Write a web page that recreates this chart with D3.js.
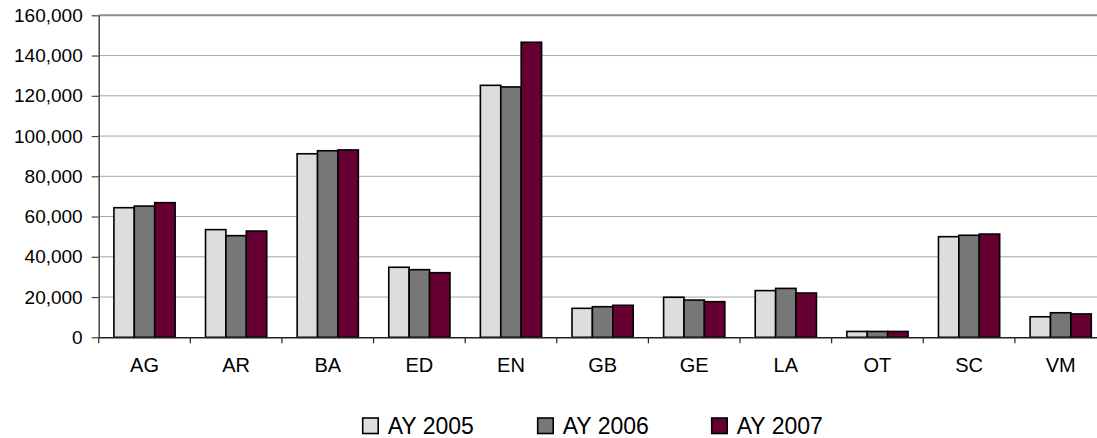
<!DOCTYPE html>
<html><head><meta charset="utf-8">
<script src="https://cdn.jsdelivr.net/npm/d3@7"></script>
<style>
html,body{margin:0;padding:0;background:#fff;overflow:hidden;}
svg{display:block;font-family:"Liberation Sans",Arial,sans-serif;}
</style></head>
<body>
<svg id="chart" width="1097" height="438"></svg>
<script>
const categories = ["AG","AR","BA","ED","EN","GB","GE","LA","OT","SC","VM"];
const seriesNames = ["AY 2005","AY 2006","AY 2007"];
const ay2005 = [64400,53500,91200,34800,125200,14400,19900,23200,2900,50000,10200];
const ay2006 = [65200,50500,92700,33600,124400,15200,18500,24300,2900,50700,12200];
const ay2007 = [66900,52800,93100,32100,146600,15900,17700,22000,2900,51300,11600];
const yTicks = [0,20000,40000,60000,80000,100000,120000,140000,160000];
const colors = ["#dddddd","#777777","#660033"];

(function(){
const seriesValues = [ay2005, ay2006, ay2007];
const svg = d3.select("#chart");
const pLeft = 98.7, pRight = 1106.5, pTop = 15.3, pBottom = 337.3;

const x = d3.scaleBand().domain(categories).range([pLeft, pRight]).paddingInner(0).paddingOuter(0);
const bw = x.bandwidth();
const xs = d3.scaleBand().domain(seriesNames).range([bw*0.166, bw*0.834]).padding(0);
const y = d3.scaleLinear().domain([0,160000]).range([pBottom, pTop]);

// gridlines
svg.append("g").selectAll("line").data(yTicks.filter(d => d > 0 && d < 160000)).join("line")
  .attr("x1", pLeft).attr("x2", pRight)
  .attr("y1", d => y(d)).attr("y2", d => y(d))
  .attr("stroke", "#a6a6a6").attr("stroke-width", 1);
// top border
svg.append("line").attr("x1", pLeft).attr("x2", pRight).attr("y1", y(160000)).attr("y2", y(160000))
  .attr("stroke", "#8c8c8c").attr("stroke-width", 2);

// bars
const rows = [];
categories.forEach((c, i) => seriesNames.forEach((s, j) => rows.push({c, s, j, v: seriesValues[j][i]})));
svg.append("g").selectAll("rect").data(rows).join("rect")
  .attr("x", d => x(d.c) + xs(d.s))
  .attr("y", d => y(d.v))
  .attr("width", xs.bandwidth())
  .attr("height", d => y(0) - y(d.v))
  .attr("fill", d => colors[d.j])
  .attr("stroke", "#000").attr("stroke-width", 1.6);

// y axis
const yAxis = d3.axisLeft(y).tickValues(yTicks).tickSize(7).tickSizeOuter(0)
  .tickFormat(d3.format(","));
const gy = svg.append("g").attr("transform", `translate(${pLeft},0)`).call(yAxis);
gy.select(".domain").attr("stroke", "#444").attr("stroke-width", 1.5);
gy.selectAll(".tick line").attr("stroke", "#444").attr("stroke-width", 1.2);
gy.selectAll(".tick text").attr("font-size", 19).attr("fill", "#000")
  .attr("font-family", "Liberation Sans, Arial, sans-serif").attr("x", -16);

// x axis
const xAxis = d3.axisBottom(x).tickSize(0).tickSizeOuter(0);
const gx = svg.append("g").attr("transform", `translate(0,${pBottom})`).call(xAxis);
gx.select(".domain").attr("stroke", "#222").attr("stroke-width", 1.5);
gx.selectAll(".tick text").attr("font-size", 20).attr("fill", "#000")
  .attr("font-family", "Liberation Sans, Arial, sans-serif").attr("y", 21);
// category separator ticks
svg.append("g").selectAll("line").data(categories).join("line")
  .attr("x1", d => x(d)).attr("x2", d => x(d))
  .attr("y1", pBottom).attr("y2", pBottom + 6)
  .attr("stroke", "#222").attr("stroke-width", 1.2);

// legend
const legendX = [361.7, 536.7, 710.7];
const lg = svg.append("g").selectAll("g").data(seriesNames).join("g")
  .attr("transform", (d, i) => `translate(${legendX[i]},418)`);
lg.append("rect").attr("x", 1).attr("y", 0).attr("width", 15.5).attr("height", 15.5)
  .attr("fill", (d, i) => colors[i]).attr("stroke", "#000").attr("stroke-width", 1.6);
lg.append("text").attr("x", 26).attr("y", 16).attr("font-size", 23).attr("fill", "#000")
  .text(d => d);
})();
</script>
</body></html>
